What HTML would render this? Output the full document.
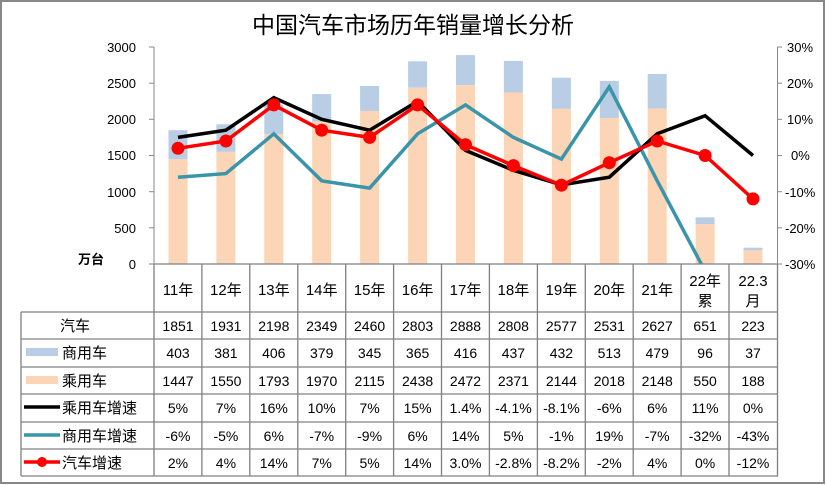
<!DOCTYPE html>
<html><head><meta charset="utf-8"><style>
body{margin:0;background:#fff}
svg{display:block}
text{font-family:"Liberation Sans","Noto Sans CJK SC",sans-serif;fill:#000}
</style></head><body>
<svg width="826" height="485" viewBox="0 0 826 485" xmlns="http://www.w3.org/2000/svg">
<rect x="1" y="1" width="823" height="482" fill="#fff" stroke="#888" stroke-width="2"/>
<text x="413" y="33" font-size="23" text-anchor="middle">中国汽车市场历年销量增长分析</text>
<defs><clipPath id="c"><rect x="154" y="40" width="624" height="224"/></clipPath></defs>
<g fill="#B9CDE5">
<rect x="168.5" y="130.2" width="19" height="29.1"/>
<rect x="216.4" y="124.3" width="19" height="27.6"/>
<rect x="264.3" y="104.9" width="19" height="29.4"/>
<rect x="312.2" y="94.1" width="19" height="27.4"/>
<rect x="360.1" y="86.0" width="19" height="25.0"/>
<rect x="408.1" y="61.3" width="19" height="26.4"/>
<rect x="456.0" y="55.1" width="19" height="30.1"/>
<rect x="503.9" y="60.9" width="19" height="31.6"/>
<rect x="551.9" y="77.7" width="19" height="31.2"/>
<rect x="599.8" y="80.9" width="19" height="37.1"/>
<rect x="647.7" y="74.0" width="19" height="34.6"/>
<rect x="695.6" y="217.3" width="19" height="6.9"/>
<rect x="743.5" y="247.7" width="19" height="2.7"/>
</g>
<g fill="#FBD5B5">
<rect x="168.5" y="159.3" width="19" height="104.7"/>
<rect x="216.4" y="151.9" width="19" height="112.1"/>
<rect x="264.3" y="134.3" width="19" height="129.7"/>
<rect x="312.2" y="121.5" width="19" height="142.5"/>
<rect x="360.1" y="111.0" width="19" height="153.0"/>
<rect x="408.1" y="87.7" width="19" height="176.3"/>
<rect x="456.0" y="85.2" width="19" height="178.8"/>
<rect x="503.9" y="92.5" width="19" height="171.5"/>
<rect x="551.9" y="108.9" width="19" height="155.1"/>
<rect x="599.8" y="118.0" width="19" height="146.0"/>
<rect x="647.7" y="108.6" width="19" height="155.4"/>
<rect x="695.6" y="224.2" width="19" height="39.8"/>
<rect x="743.5" y="250.4" width="19" height="13.6"/>
</g>
<g stroke="#888" stroke-width="1">
<line x1="154" y1="47" x2="154" y2="264"/>
<line x1="777.5" y1="47" x2="777.5" y2="264"/>
<line x1="149" y1="264" x2="154" y2="264"/><line x1="149" y1="227.8" x2="154" y2="227.8"/><line x1="149" y1="191.7" x2="154" y2="191.7"/><line x1="149" y1="155.5" x2="154" y2="155.5"/><line x1="149" y1="119.3" x2="154" y2="119.3"/><line x1="149" y1="83.2" x2="154" y2="83.2"/><line x1="149" y1="47" x2="154" y2="47"/>
<line x1="777.5" y1="264" x2="782" y2="264"/><line x1="777.5" y1="227.8" x2="782" y2="227.8"/><line x1="777.5" y1="191.7" x2="782" y2="191.7"/><line x1="777.5" y1="155.5" x2="782" y2="155.5"/><line x1="777.5" y1="119.3" x2="782" y2="119.3"/><line x1="777.5" y1="83.2" x2="782" y2="83.2"/><line x1="777.5" y1="47" x2="782" y2="47"/>
</g>
<g font-size="13" text-anchor="end">
<text x="136" y="269">0</text><text x="136" y="233">500</text><text x="136" y="197">1000</text><text x="136" y="160">1500</text><text x="136" y="124">2000</text><text x="136" y="88">2500</text><text x="136" y="52">3000</text>
</g>
<g font-size="13">
<text x="785" y="269">-30%</text><text x="785" y="233">-20%</text><text x="785" y="197">-10%</text><text x="791" y="160">0%</text><text x="787" y="124">10%</text><text x="787" y="88">20%</text><text x="787" y="52">30%</text>
</g>
<text x="78" y="264" font-size="13" font-weight="bold">万台</text>
<g clip-path="url(#c)" fill="none" stroke-width="3.5">
<polyline stroke="#3A95AB" points="178,177.2 225.9,173.6 273.8,133.8 321.7,180.8 369.6,188.1 417.6,133.8 465.5,104.9 513.4,137.4 561.4,159.1 609.3,86.8 657.2,180.8 705.1,271.2 753,311"/>
<polyline stroke="#000" points="178,137.4 225.9,130.2 273.8,97.6 321.7,119.3 369.6,130.2 417.6,101.3 465.5,150.4 513.4,170.3 561.4,184.8 609.3,177.2 657.2,133.8 705.1,115.7 753,155.5"/>
<polyline stroke="#FF0000" points="178,148.3 225.9,141 273.8,104.9 321.7,130.2 369.6,137.4 417.6,104.9 465.5,144.7 513.4,165.6 561.4,185.2 609.3,162.7 657.2,141 705.1,155.5 753,198.9"/>
</g>
<g fill="#FF0000">
<circle cx="178" cy="148.3" r="6.5"/><circle cx="225.9" cy="141" r="6.5"/><circle cx="273.8" cy="104.9" r="6.5"/><circle cx="321.7" cy="130.2" r="6.5"/><circle cx="369.6" cy="137.4" r="6.5"/><circle cx="417.6" cy="104.9" r="6.5"/><circle cx="465.5" cy="144.7" r="6.5"/><circle cx="513.4" cy="165.6" r="6.5"/><circle cx="561.4" cy="185.2" r="6.5"/><circle cx="609.3" cy="162.7" r="6.5"/><circle cx="657.2" cy="141" r="6.5"/><circle cx="705.1" cy="155.5" r="6.5"/><circle cx="753" cy="198.9" r="6.5"/>
</g>
<g stroke="#808080" stroke-width="1.3">
<line x1="154" y1="264" x2="154" y2="476"/><line x1="201.9" y1="264" x2="201.9" y2="476"/><line x1="249.8" y1="264" x2="249.8" y2="476"/><line x1="297.8" y1="264" x2="297.8" y2="476"/><line x1="345.7" y1="264" x2="345.7" y2="476"/><line x1="393.6" y1="264" x2="393.6" y2="476"/><line x1="441.5" y1="264" x2="441.5" y2="476"/><line x1="489.4" y1="264" x2="489.4" y2="476"/><line x1="537.4" y1="264" x2="537.4" y2="476"/><line x1="585.3" y1="264" x2="585.3" y2="476"/><line x1="633.2" y1="264" x2="633.2" y2="476"/><line x1="681.1" y1="264" x2="681.1" y2="476"/><line x1="729" y1="264" x2="729" y2="476"/><line x1="777.5" y1="264" x2="777.5" y2="476"/>
<line x1="154" y1="264" x2="778" y2="264"/>
<line x1="21" y1="312" x2="778" y2="312"/><line x1="21" y1="339" x2="778" y2="339"/><line x1="21" y1="367" x2="778" y2="367"/><line x1="21" y1="394" x2="778" y2="394"/><line x1="21" y1="422" x2="778" y2="422"/><line x1="21" y1="449" x2="778" y2="449"/><line x1="21" y1="476" x2="778" y2="476"/>
<line x1="21" y1="312" x2="21" y2="476"/>
</g>
<g font-size="15" text-anchor="middle">
<text x="178" y="295">11年</text><text x="225.9" y="295">12年</text><text x="273.8" y="295">13年</text><text x="321.7" y="295">14年</text><text x="369.6" y="295">15年</text><text x="417.6" y="295">16年</text><text x="465.5" y="295">17年</text><text x="513.4" y="295">18年</text><text x="561.4" y="295">19年</text><text x="609.3" y="295">20年</text><text x="657.2" y="295">21年</text><text x="705.1" y="286">22年</text><text x="705.1" y="306">累</text><text x="753" y="286">22.3</text><text x="753" y="306">月</text>
</g>
<g font-size="14" text-anchor="middle">
<text x="178" y="331">1851</text><text x="225.9" y="331">1931</text><text x="273.8" y="331">2198</text><text x="321.7" y="331">2349</text><text x="369.6" y="331">2460</text><text x="417.6" y="331">2803</text><text x="465.5" y="331">2888</text><text x="513.4" y="331">2808</text><text x="561.4" y="331">2577</text><text x="609.3" y="331">2531</text><text x="657.2" y="331">2627</text><text x="705.1" y="331">651</text><text x="753" y="331">223</text>
<text x="178" y="358">403</text><text x="225.9" y="358">381</text><text x="273.8" y="358">406</text><text x="321.7" y="358">379</text><text x="369.6" y="358">345</text><text x="417.6" y="358">365</text><text x="465.5" y="358">416</text><text x="513.4" y="358">437</text><text x="561.4" y="358">432</text><text x="609.3" y="358">513</text><text x="657.2" y="358">479</text><text x="705.1" y="358">96</text><text x="753" y="358">37</text>
<text x="178" y="386">1447</text><text x="225.9" y="386">1550</text><text x="273.8" y="386">1793</text><text x="321.7" y="386">1970</text><text x="369.6" y="386">2115</text><text x="417.6" y="386">2438</text><text x="465.5" y="386">2472</text><text x="513.4" y="386">2371</text><text x="561.4" y="386">2144</text><text x="609.3" y="386">2018</text><text x="657.2" y="386">2148</text><text x="705.1" y="386">550</text><text x="753" y="386">188</text>
<text x="178" y="413">5%</text><text x="225.9" y="413">7%</text><text x="273.8" y="413">16%</text><text x="321.7" y="413">10%</text><text x="369.6" y="413">7%</text><text x="417.6" y="413">15%</text><text x="465.5" y="413">1.4%</text><text x="513.4" y="413">-4.1%</text><text x="561.4" y="413">-8.1%</text><text x="609.3" y="413">-6%</text><text x="657.2" y="413">6%</text><text x="705.1" y="413">11%</text><text x="753" y="413">0%</text>
<text x="178" y="441">-6%</text><text x="225.9" y="441">-5%</text><text x="273.8" y="441">6%</text><text x="321.7" y="441">-7%</text><text x="369.6" y="441">-9%</text><text x="417.6" y="441">6%</text><text x="465.5" y="441">14%</text><text x="513.4" y="441">5%</text><text x="561.4" y="441">-1%</text><text x="609.3" y="441">19%</text><text x="657.2" y="441">-7%</text><text x="705.1" y="441">-32%</text><text x="753" y="441">-43%</text>
<text x="178" y="468">2%</text><text x="225.9" y="468">4%</text><text x="273.8" y="468">14%</text><text x="321.7" y="468">7%</text><text x="369.6" y="468">5%</text><text x="417.6" y="468">14%</text><text x="465.5" y="468">3.0%</text><text x="513.4" y="468">-2.8%</text><text x="561.4" y="468">-8.2%</text><text x="609.3" y="468">-2%</text><text x="657.2" y="468">4%</text><text x="705.1" y="468">0%</text><text x="753" y="468">-12%</text>
</g>
<g font-size="15">
<text x="60" y="331">汽车</text>
<text x="62" y="358">商用车</text>
<text x="62" y="386">乘用车</text>
<text x="62" y="413">乘用车增速</text>
<text x="62" y="441">商用车增速</text>
<text x="62" y="468">汽车增速</text>
</g>
<rect x="26" y="348" width="32" height="8" fill="#B9CDE5"/>
<rect x="26" y="376" width="32" height="8" fill="#FBD5B5"/>
<line x1="24" y1="407" x2="60" y2="407" stroke="#000" stroke-width="3.5"/>
<line x1="24" y1="435" x2="60" y2="435" stroke="#3A95AB" stroke-width="3.5"/>
<line x1="24" y1="462" x2="60" y2="462" stroke="#FF0000" stroke-width="3.5"/>
<circle cx="42" cy="462" r="5" fill="#FF0000"/>
</svg>
</body></html>
